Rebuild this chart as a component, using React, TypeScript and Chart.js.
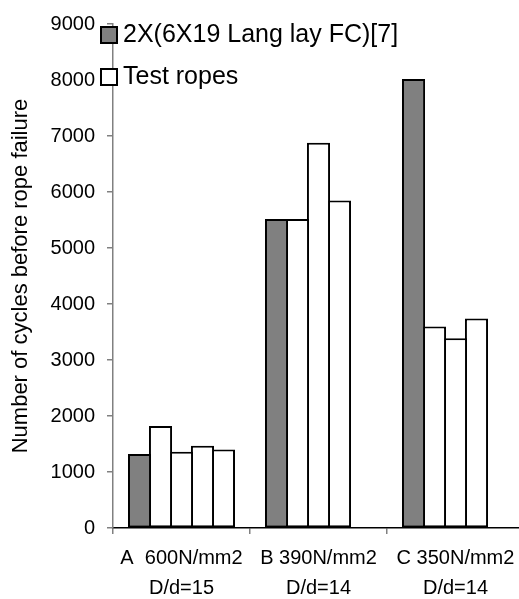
import React, { useEffect, useRef } from 'react';
import { Chart, registerables } from 'chart.js';

Chart.register(...registerables);

const categories: string[][] = [
  ['A  600N/mm2', 'D/d=15'],
  ['B 390N/mm2', 'D/d=14'],
  ['C 350N/mm2', 'D/d=14'],
];
const referenceRope: (number | null)[] = [1320, 5520, 8020];
const testRopeA: (number | null)[] = [1820, 5520, 3600];
const testRopeB: (number | null)[] = [1360, 6880, 3390];
const testRopeC: (number | null)[] = [1470, 5850, 3740];
const testRopeD: (number | null)[] = [1400, null, null];
const legendLabels: string[] = ['2X(6X19 Lang lay FC)[7]', 'Test ropes'];
const yAxisTitle = 'Number of cycles before rope failure';
const yMin = 0;
const yMax = 9000;
const yStep = 1000;

const GRAY = '#808080';
const WHITE = '#ffffff';
const FONT = 'Liberation Sans';

const legendPlugin = {
  id: 'customLegend',
  afterDraw(chart: any) {
    const ctx = chart.ctx as CanvasRenderingContext2D;
    const items = [
      { label: legendLabels[0], fill: GRAY, top: 27 },
      { label: legendLabels[1], fill: WHITE, top: 69 },
    ];
    ctx.save();
    for (const it of items) {
      ctx.fillStyle = it.fill;
      ctx.fillRect(101, it.top, 16, 16);
      ctx.strokeStyle = '#000';
      ctx.lineWidth = 2;
      ctx.strokeRect(101, it.top, 16, 16);
      ctx.fillStyle = '#000';
      ctx.font = `25px "${FONT}"`;
      ctx.textBaseline = 'middle';
      ctx.textAlign = 'left';
      ctx.fillText(it.label, 123, it.top + 8);
    }
    ctx.restore();
  },
};

export default function App() {
  const canvasRef = useRef<HTMLCanvasElement | null>(null);

  useEffect(() => {
    document.body.style.margin = '0';
    document.body.style.background = '#fff';
    const canvas = canvasRef.current;
    if (!canvas) return;
    const barStyle = (fill: string) => ({
      backgroundColor: fill,
      borderColor: '#000',
      borderWidth: 2,
      borderSkipped: false as const,
      inflateAmount: 0,
      categoryPercentage: 0.766,
      barPercentage: 1.1,
    });
    const chart = new Chart(canvas, {
      type: 'bar',
      data: {
        labels: categories,
        datasets: [
          { label: legendLabels[0], data: referenceRope, ...barStyle(GRAY) },
          { label: legendLabels[1], data: testRopeA, ...barStyle(WHITE) },
          { label: legendLabels[1] + ' 2', data: testRopeB, ...barStyle(WHITE) },
          { label: legendLabels[1] + ' 3', data: testRopeC, ...barStyle(WHITE) },
          { label: legendLabels[1] + ' 4', data: testRopeD, ...barStyle(WHITE) },
        ],
      },
      options: {
        responsive: false,
        animation: false,
        devicePixelRatio: 1,
        layout: { padding: { top: 23, right: 2, bottom: 0, left: 0 } },
        plugins: {
          legend: { display: false },
          tooltip: { enabled: false },
        },
        scales: {
          x: {
            offset: true,
            grid: {
              display: true,
              offset: true,
              drawOnChartArea: false,
              drawTicks: true,
              tickLength: 6,
              color: GRAY,
              lineWidth: 1.5,
            },
            border: { display: true, color: '#000', width: 1.5 },
            ticks: {
              color: '#000',
              font: { family: FONT, size: 20, lineHeight: 1.5 },
              padding: 9,
              maxRotation: 0,
              autoSkip: false,
            },
            afterFit: (s: any) => {
              s.height = 71;
            },
          },
          y: {
            min: yMin,
            max: yMax,
            grid: {
              display: true,
              drawOnChartArea: false,
              drawTicks: true,
              tickLength: 6,
              color: GRAY,
              lineWidth: 1.5,
            },
            border: { display: true, color: GRAY, width: 1.5 },
            ticks: {
              stepSize: yStep,
              color: '#000',
              font: { family: FONT, size: 20 },
              padding: 12,
              callback: (v: any) => String(v),
            },
            title: {
              display: true,
              text: yAxisTitle,
              color: '#000',
              font: { family: FONT, size: 22, lineHeight: 1.2 },
              padding: { top: 8, bottom: 0 },
            },
            afterFit: (s: any) => {
              s.width = 113;
            },
          },
        },
      },
      plugins: [legendPlugin],
    });
    return () => chart.destroy();
  }, []);

  return (
    <div style={{ width: 519, height: 599, overflow: 'hidden', position: 'relative', background: '#fff' }}>
      <canvas ref={canvasRef} width={526} height={599} style={{ display: 'block' }} />
    </div>
  );
}
